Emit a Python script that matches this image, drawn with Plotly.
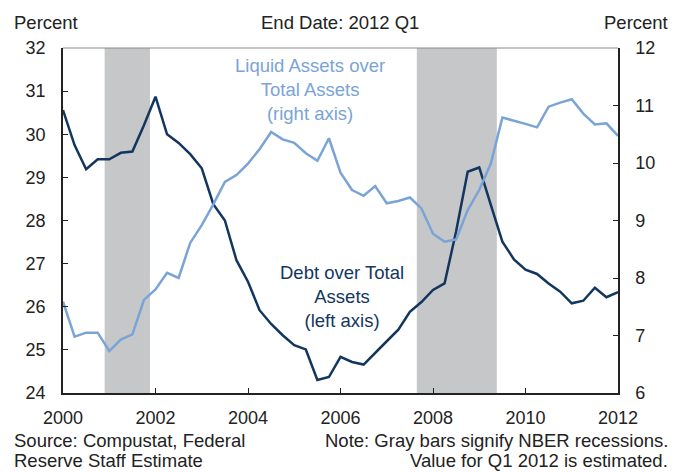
import plotly.graph_objects as go

# quarterly, 2000 Q1 .. 2012 Q1
years = [2000 + i / 4 for i in range(49)]

debt = [30.56, 29.75, 29.19, 29.42, 29.42, 29.57, 29.60, 30.21, 30.87, 30.00,
        29.80, 29.54, 29.21, 28.38, 28.00, 27.08, 26.58, 25.92, 25.60, 25.34,
        25.11, 25.01, 24.30, 24.37, 24.84, 24.72, 24.66, 24.92, 25.20, 25.47,
        25.88, 26.11, 26.39, 26.54, 27.75, 29.13, 29.23, 28.36, 27.51, 27.10,
        26.86, 26.76, 26.54, 26.35, 26.08, 26.14, 26.44, 26.22, 26.34]

liquid = [7.59, 6.98, 7.05, 7.05, 6.73, 6.93, 7.02, 7.62, 7.80, 8.09,
          8.00, 8.61, 8.92, 9.28, 9.67, 9.79, 9.99, 10.24, 10.54, 10.41,
          10.35, 10.17, 10.04, 10.43, 9.83, 9.53, 9.43, 9.60, 9.30, 9.34,
          9.40, 9.21, 8.77, 8.63, 8.67, 9.18, 9.53, 9.99, 10.79, 10.74,
          10.68, 10.62, 10.98, 11.05, 11.11, 10.86, 10.67, 10.69, 10.47]

rec_start = [2000.9, 2007.65]
rec_end = [2001.88, 2009.38]

FONT = "Liberation Sans, Arial, sans-serif"
DARK = "#13365f"
LIGHT = "#7aa4d6"
TXT = 18.5

fig = go.Figure()

# recession bars
for s, e in zip(rec_start, rec_end):
    fig.add_shape(type="rect", xref="x", yref="paper", x0=s, x1=e, y0=0, y1=1,
                  fillcolor="#c6c7c9", line=dict(width=0), layer="below")

# thin top frame line
fig.add_shape(type="line", xref="paper", yref="paper", x0=0, x1=1, y0=1, y1=1,
              line=dict(color="#8a8a8a", width=1))

fig.add_trace(go.Scatter(x=years, y=liquid, mode="lines", yaxis="y2",
                         line=dict(color=LIGHT, width=2.5), name="Liquid"))
fig.add_trace(go.Scatter(x=years, y=debt, mode="lines",
                         line=dict(color=DARK, width=2.5), name="Debt"))

axis_common = dict(showgrid=False, zeroline=False, ticks="inside", ticklen=5,
                   tickcolor="#222", showline=True, linecolor="#222", linewidth=1.5,
                   automargin=False,
                   tickfont=dict(family=FONT, size=18, color="#222"))

fig.update_layout(
    width=679, height=472,
    margin=dict(l=63, r=61, t=48, b=79),
    paper_bgcolor="white", plot_bgcolor="white",
    showlegend=False,
    font=dict(family=FONT, size=18, color="#222"),
    xaxis=dict(range=[2000, 2012], tickvals=[2000, 2002, 2004, 2006, 2008, 2010, 2012],
               ticklabelstandoff=8, **axis_common),
    yaxis=dict(range=[24, 32], dtick=1, ticklabelstandoff=12, **axis_common),
    yaxis2=dict(range=[6, 12], dtick=1, overlaying="y", side="right",
                ticklabelstandoff=12, **axis_common),
)

ann = [
    dict(text="Percent", x=12, y=22, xanchor="left"),
    dict(text="End Date: 2012 Q1", x=340, y=22, xanchor="center"),
    dict(text="Percent", x=670, y=22, xanchor="right"),
    dict(text="Source: Compustat, Federal", x=12, y=440, xanchor="left"),
    dict(text="Reserve Staff Estimate", x=12, y=461, xanchor="left"),
    dict(text="Note: Gray bars signify NBER recessions.", x=670, y=440, xanchor="right"),
    dict(text="Value for Q1 2012 is estimated.", x=670, y=461, xanchor="right"),
]
for a in ann:
    fig.add_annotation(text=a["text"], xref="paper", yref="paper",
                       x=(a["x"] - 63) / (618 - 63), y=(393 - a["y"]) / (393 - 48),
                       xanchor=a["xanchor"], yanchor="middle", showarrow=False,
                       font=dict(family=FONT, size=TXT, color="#222"))

fig.add_annotation(text="Liquid Assets over<br>Total Assets<br>(right axis)",
                   xref="paper", yref="paper", x=(310 - 63) / 555, y=(393 - 89) / 345,
                   xanchor="center", yanchor="middle", showarrow=False, align="center",
                   font=dict(family=FONT, size=TXT, color=LIGHT))
fig.add_annotation(text="Debt over Total<br>Assets<br>(left axis)",
                   xref="paper", yref="paper", x=(342 - 63) / 555, y=(393 - 296) / 345,
                   xanchor="center", yanchor="middle", showarrow=False, align="center",
                   font=dict(family=FONT, size=TXT, color=DARK))

fig.write_html("out.html", config={"displayModeBar": False},
               post_script="document.body.style.margin='0';")
